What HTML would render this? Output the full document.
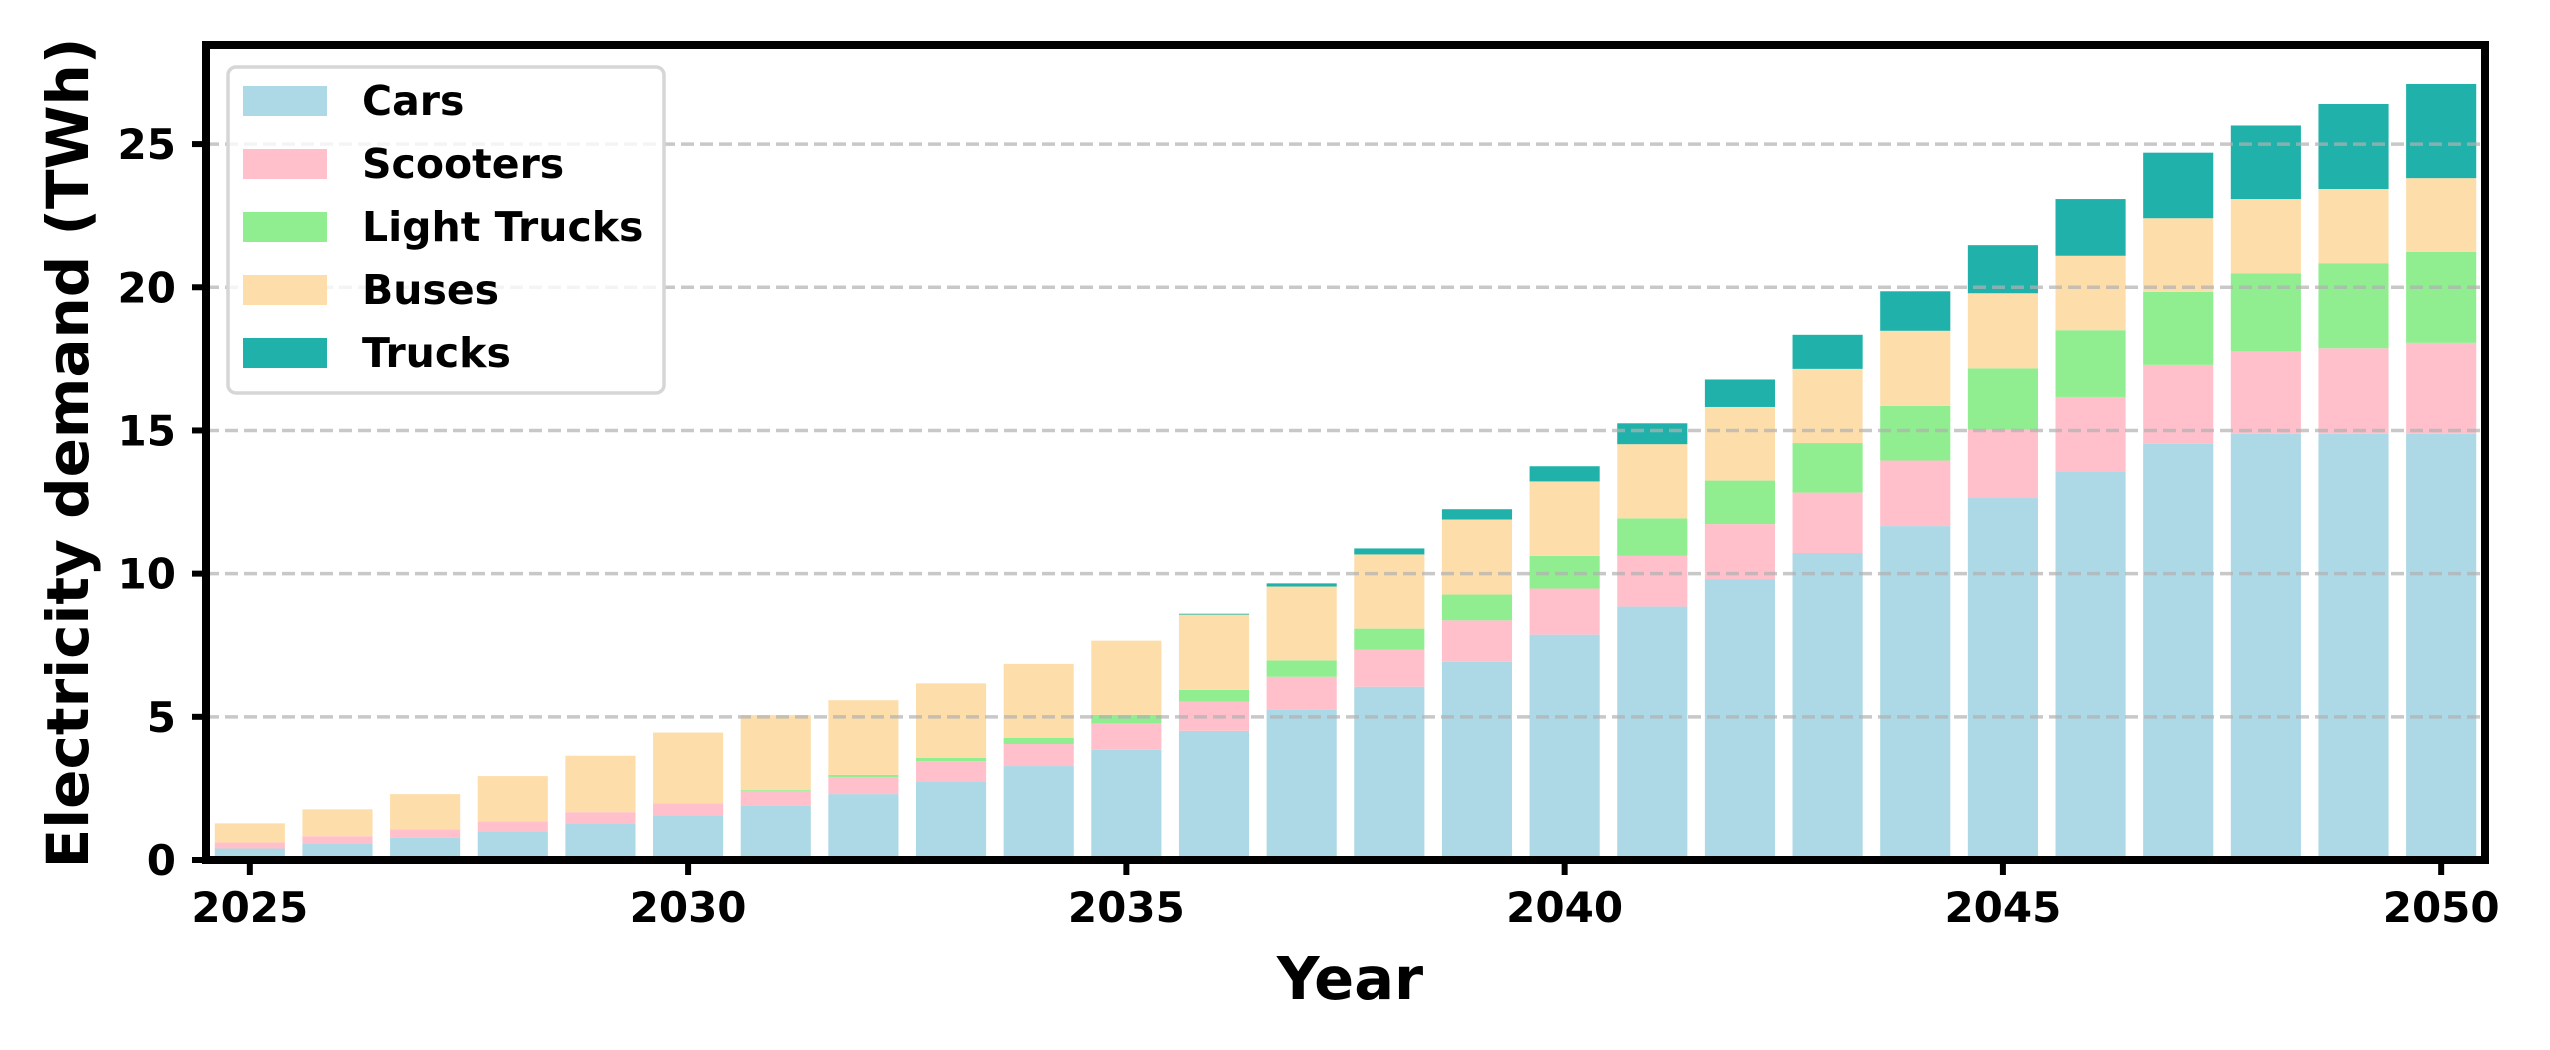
<!DOCTYPE html>
<html><head><meta charset="utf-8"><style>
html,body{margin:0;padding:0;background:#fff;}
svg{display:block;font-family:"DejaVu Sans","Liberation Sans",sans-serif;font-weight:bold;}
</style></head><body>
<svg id="chart" width="2550" height="1050" viewBox="0 0 2550 1050" xmlns="http://www.w3.org/2000/svg">
<g id="bars"></g>
<g id="grid"></g>
<g id="axes"></g>
<g id="legend"></g>
<text transform="translate(88,453) rotate(-90)" text-anchor="middle" font-size="58" fill="#000">Electricity demand (TWh)</text>
<text x="1350" y="999" text-anchor="middle" font-size="59" fill="#000">Year</text>
</svg>
<script>
const years = [2025,2026,2027,2028,2029,2030,2031,2032,2033,2034,2035,2036,2037,2038,2039,2040,2041,2042,2043,2044,2045,2046,2047,2048,2049,2050];
const cars = [0.40,0.58,0.77,1.00,1.28,1.56,1.91,2.30,2.75,3.28,3.85,4.51,5.24,6.05,6.92,7.87,8.85,9.81,10.72,11.66,12.64,13.57,14.53,14.88,14.88,14.88];
const scooters = [0.21,0.25,0.30,0.35,0.39,0.42,0.50,0.60,0.70,0.77,0.92,1.02,1.16,1.30,1.45,1.61,1.77,1.92,2.11,2.29,2.38,2.60,2.76,2.88,2.99,3.18];
const lightTrucks = [0,0,0,0,0,0,0.03,0.07,0.12,0.21,0.30,0.41,0.57,0.73,0.90,1.14,1.31,1.52,1.73,1.91,2.15,2.33,2.55,2.73,2.97,3.18];
const buses = [0.67,0.94,1.23,1.58,1.97,2.47,2.62,2.61,2.60,2.59,2.59,2.63,2.58,2.59,2.62,2.60,2.59,2.57,2.59,2.62,2.62,2.60,2.57,2.59,2.59,2.57];
const trucks = [0,0,0,0,0,0,0,0,0,0,0,0.03,0.11,0.21,0.36,0.53,0.73,0.96,1.19,1.38,1.68,1.98,2.29,2.57,2.97,3.29];
const seriesNames = ["Cars","Scooters","Light Trucks","Buses","Trucks"];
const seriesColors = ["#add8e6","#ffc0cb","#90ee90","#fddeab","#20b2aa"];
const yTicks = [0,5,10,15,20,25];
const xTicks = [2025,2030,2035,2040,2045,2050];

const NS="http://www.w3.org/2000/svg";
const L=206,R=2485,T=45,B=860;
const xMin=2024.5,xMax=2050.5,yMax=28.46;
const xs=v=>L+(v-xMin)/(xMax-xMin)*(R-L);
const ys=v=>B-v/yMax*(B-T);
const barW=0.8*(R-L)/(xMax-xMin);
function mk(tag,attrs,parent){const e=document.createElementNS(NS,tag);for(const k in attrs)e.setAttribute(k,attrs[k]);parent.appendChild(e);return e;}
const series=[cars,scooters,lightTrucks,buses,trucks];
const gb=document.getElementById('bars');
years.forEach((yr,i)=>{
  let base=0;
  series.forEach((s,j)=>{
    const v=s[i];
    if(v>0){
      const r=mk('rect',{x:xs(yr)-barW/2,y:ys(base+v),width:barW,height:ys(base)-ys(base+v),fill:seriesColors[j]},gb);
      
      
    }
    base+=v;
  });
});
const gg=document.getElementById('grid');
yTicks.forEach(t=>{
  if(t===0)return;
  const l=mk('line',{x1:L,x2:R,y1:ys(t),y2:ys(t),stroke:'#b0b0b0','stroke-opacity':0.7,'stroke-width':3.5,'stroke-dasharray':'13 6'},gg);
  
  
});
const ga=document.getElementById('axes');
yTicks.forEach(t=>{
  const tk=mk('line',{x1:L-14,x2:L,y1:ys(t),y2:ys(t),stroke:'#000','stroke-width':6},ga);
  
  
  const tx=mk('text',{x:L-30,y:ys(t)+15,'text-anchor':'end','font-size':42,fill:'#000'},ga);
  tx.textContent=t;
  
  
});
xTicks.forEach(t=>{
  const tk=mk('line',{x1:xs(t),x2:xs(t),y1:B,y2:B+15,stroke:'#000','stroke-width':6},ga);
  
  
  const tx=mk('text',{x:xs(t),y:B+62,'text-anchor':'middle','font-size':42,fill:'#000'},ga);
  tx.textContent=t;
  
  
});
const fr=mk('rect',{x:L,y:T,width:R-L,height:B-T,fill:'none',stroke:'#000','stroke-width':8},ga);


const gl=document.getElementById('legend');
const lb=mk('rect',{x:228,y:67,width:436,height:326,rx:8,fill:'#fff','fill-opacity':0.8,stroke:'#d6d6d6','stroke-width':3.5},gl);


seriesNames.forEach((n,j)=>{
  const y0=86+j*63;
  const p=mk('rect',{x:243,y:y0,width:84,height:30,fill:seriesColors[j]},gl);
  
  
  const t=mk('text',{x:362,y:y0+29,'font-size':41,fill:'#000'},gl);
  t.textContent=n;
  
  
});
</script>
</body></html>
